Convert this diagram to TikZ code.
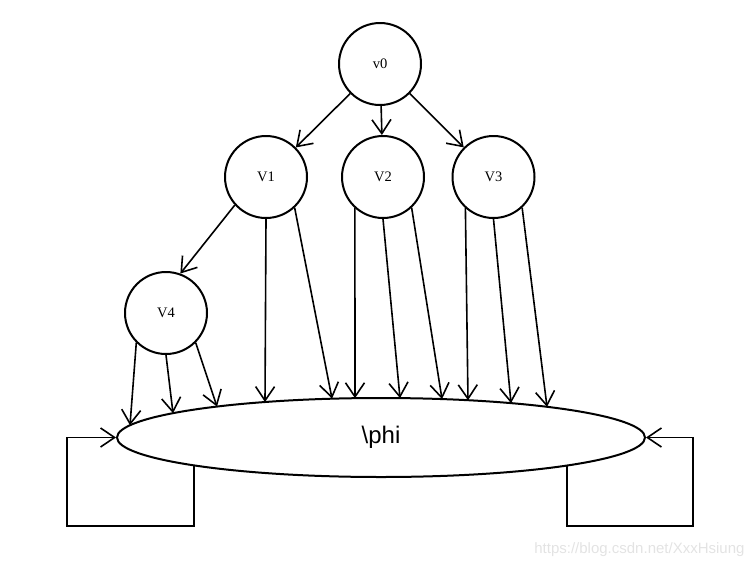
\documentclass[tikz,border=0pt]{standalone}
\usepackage{fontspec}
\setmainfont{Liberation Serif}
\newfontfamily\phifont{Liberation Sans}
\usetikzlibrary{shapes,arrows.meta}

\tikzset{
  vert/.style={draw,circle,line width=2pt,minimum size=82pt,inner sep=0pt,
    font=\fontsize{14.5}{14.5}\selectfont},
  dep/.style={-{Straight Barb[length=14pt,width=19pt]},line width=1.6pt},
}

\begin{document}
\begin{tikzpicture}[x=1pt,y=-1pt]
  \useasboundingbox (0,0) rectangle (755,568);
  \node[vert] (v0) at (380,64) {v0};
  \node[vert] (V1) at (266,177) {V1};
  \node[vert] (V2) at (383,177) {V2};
  \node[vert] (V3) at (493.5,177) {V3};
  \node[vert] (V4) at (166,313) {V4};
  \node[draw,ellipse,line width=2pt,minimum width=528pt,minimum height=79pt,
    font=\phifont\fontsize{24}{24}\selectfont] (phi) at (381,437.5) {\raisebox{-3pt}{\textbackslash phi}};
  % points on the border of phi
  \foreach \n/\x in {1/130,2/173,3/217,4/265,5/332,6/355,7/400,8/442,9/468,10/511,11/547}
    \coordinate (t\n) at (\x,{437.5-39.5*sqrt(1-((\x-381)/264)^2)});
  \coordinate (lo) at (194,{437.5+39.5*sqrt(1-(187/264)^2)});
  \coordinate (ro) at (567,{437.5+39.5*sqrt(1-(186/264)^2)});
  \coordinate (L1) at (67,526);
  \coordinate (R1) at (693,526);
  % tree edges
  \path[dep] (v0) edge (V1);
  \path[dep] (v0) edge (V2);
  \path[dep] (v0) edge (V3);
  \path[dep] (V1.222) edge (V4.70);
  % edges into phi
  \path[dep] (V4.225) edge (t1);
  \path[dep] (V4.270) edge (t2);
  \path[dep] (V4.315) edge (t3);
  \path[dep] (V1.270) edge (t4);
  \path[dep] (V1.313) edge (t5);
  \path[dep] (V2.228) edge (t6);
  \path[dep] (V2.270) edge (t7);
  \path[dep] (V2.313) edge (t8);
  \path[dep] (V3.228) edge (t9);
  \path[dep] (V3.270) edge (t10);
  \path[dep] (V3.313) edge (t11);
  % self loops
  \draw[dep] (lo) |- (L1) |- (phi.west);
  \draw[dep] (ro) |- (R1) |- (phi.east);
  \node[text=gray!22,font=\phifont\fontsize{15}{15}\selectfont,anchor=east] (mark) at (748,550) {https://blog.csdn.net/XxxHsiung};
\end{tikzpicture}
\end{document}
